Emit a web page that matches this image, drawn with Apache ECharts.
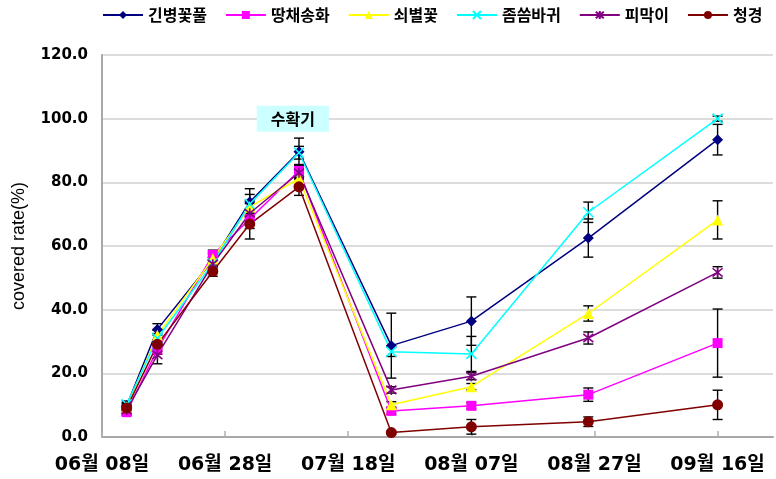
<!DOCTYPE html>
<html>
<head>
<meta charset="utf-8">
<script src="https://cdn.jsdelivr.net/npm/echarts@6/dist/echarts.min.js"></script>
<style>
  html, body { margin: 0; padding: 0; background: #fff; }
  #chart { width: 776px; height: 479px; }
</style>
</head>
<body>
<div id="chart"></div>
<script>
// 조사 날짜 (06월 08일 기준)
const startDate = '06-08'
const dates = ['06-12', '06-17', '06-26', '07-02', '07-10', '07-25', '08-07', '08-26', '09-16']
const tickLabels = ['06월 08일', '06월 28일', '07월 18일', '08월 07일', '08월 27일', '09월 16일']
const yTicks = [0, 20, 40, 60, 80, 100, 120]

const names = ['긴병꽃풀', '땅채송화', '쇠별꽃', '좀씀바귀', '피막이', '청경']

// 피복률 (%) 평균
const ginbyeong = [9.8, 33.8, 55.5, 73.8, 89.6, 28.7, 36.4, 62.5, 93.4]
const ttangchae = [7.8, 27.5, 57.2, 68.5, 83.6, 8.2, 9.8, 13.3, 29.5]
const soebyeol = [9.5, 32.0, 56.0, 72.3, 81.2, 10.1, 15.8, 38.8, 68.2]
const jomsseum = [10.3, 31.0, 54.5, 73.2, 89.3, 26.8, 26.1, 70.6, 100.0]
const pimagi = [8.5, 25.8, 54.3, 70.3, 83.0, 14.8, 19.1, 31.1, 51.7]
const cheonggyeong = [9.1, 29.1, 52.0, 66.9, 78.6, 1.4, 3.2, 4.8, 10.1]

// 표준오차 (±)
const ginbyeongErr = [1.0, 1.8, 2.0, 4.2, 4.3, 10.2, 7.6, 6.0, 4.8]
const ttangchaeErr = [1.0, 1.5, 1.5, 3.0, 2.0, 1.0, 1.0, 2.1, 10.7]
const soebyeolErr = [1.0, 1.5, 2.0, 2.0, 2.0, 1.0, 1.0, 2.4, 6.0]
const jomsseumErr = [1.0, 1.5, 2.0, 3.0, 2.0, 1.5, 5.5, 3.2, 0.8]
const pimagiErr = [1.0, 2.8, 2.0, 3.0, 2.0, 1.0, 1.1, 1.9, 1.8]
const cheonggyeongErr = [1.0, 1.5, 1.5, 4.7, 2.7, 0.5, 2.3, 1.5, 4.6]

const harvest = { label: '수확기', date: '07-09', value: 100 }

const colors = ['#000080', '#ff00ff', '#ffff00', '#00ffff', '#800080', '#800000']
const symbols = [
  'diamond',
  'rect',
  'triangle',
  'path://M0,0 L10,10 M10,0 L0,10',
  'path://M0,0 L10,10 M10,0 L0,10 M5,-1 L5,11',
  'circle'
]
const symbolSizes = [11, 10, 11, 10, 10, 11]
const values = [ginbyeong, ttangchae, soebyeol, jomsseum, pimagi, cheonggyeong]
const errors = [ginbyeongErr, ttangchaeErr, soebyeolErr, jomsseumErr, pimagiErr, cheonggyeongErr]

const dayOf = (md) => {
  const [m, d] = md.split('-').map(Number)
  return Date.UTC(2000, m - 1, d) / 86400000
}
const dayOffset = (md) => dayOf(md) - dayOf(startDate)
const xDays = dates.map(dayOffset)
const tickDays = tickLabels.map((_, i) => i * 20)

const renderError = (params, api) => {
  const x = api.value(0)
  const lo = api.coord([x, api.value(1)])
  const hi = api.coord([x, api.value(2)])
  const w = 5
  const style = { stroke: '#000', lineWidth: 1.4 }
  return {
    type: 'group',
    children: [
      { type: 'line', shape: { x1: lo[0], y1: hi[1], x2: lo[0], y2: lo[1] }, style },
      { type: 'line', shape: { x1: lo[0] - w, y1: hi[1], x2: lo[0] + w, y2: hi[1] }, style },
      { type: 'line', shape: { x1: lo[0] - w, y1: lo[1], x2: lo[0] + w, y2: lo[1] }, style }
    ]
  }
}

const series = []
names.forEach((name, i) => {
  series.push({
    name: name + '-err',
    type: 'custom',
    renderItem: renderError,
    encode: { x: 0, y: [1, 2] },
    data: values[i].map((v, j) => [xDays[j], v - errors[i][j], v + errors[i][j]]),
    z: 1,
    silent: true
  })
})
names.forEach((name, i) => {
  const isPath = symbols[i].startsWith('path://')
  series.push({
    name,
    type: 'line',
    data: values[i].map((v, j) => [xDays[j], v]),
    symbol: symbols[i],
    symbolSize: symbolSizes[i],
    showAllSymbol: true,
    color: colors[i],
    lineStyle: { color: colors[i], width: 1.5 },
    itemStyle: isPath
      ? { color: colors[i], borderColor: colors[i], borderWidth: 1.6 }
      : { color: colors[i], borderWidth: 0 },
    z: 2,
    animation: false
  })
})

series[6].markPoint = {
  symbol: 'rect',
  symbolSize: 0,
  data: [{ coord: [dayOffset(harvest.date), harvest.value] }],
  label: {
    show: true,
    position: 'inside',
    formatter: harvest.label,
    backgroundColor: '#ccffff',
    padding: [5, 14, 5, 14],
    color: '#000',
    fontSize: 16,
    fontWeight: 'bold',
    fontFamily: "'Noto Sans CJK KR', sans-serif"
  }
}

const chart = echarts.init(document.getElementById('chart'))
chart.setOption({
  animation: false,
  backgroundColor: '#fff',
  legend: {
    data: names,
    left: 102,
    top: 7,
    width: 700,
    padding: 0,
    itemWidth: 40,
    itemHeight: 10,
    itemGap: 18,
    textStyle: { color: '#000', fontSize: 16, fontWeight: 'bold', fontFamily: "'Noto Sans CJK KR', sans-serif" }
  },
  grid: { left: 102, right: 3, top: 55, bottom: 42, containLabel: false },
  xAxis: {
    type: 'value',
    min: 0,
    max: 109,
    interval: 20,
    axisLine: { show: true, lineStyle: { color: '#a8a8a8', width: 2 } },
    axisTick: { show: true, inside: true, length: 6, customValues: tickDays, lineStyle: { color: '#b0b0b0', width: 1.5 } },
    axisLabel: {
      customValues: tickDays,
      margin: 19,
      color: '#000',
      fontSize: 19,
      fontWeight: 'bold',
      fontFamily: "'DejaVu Sans', 'Noto Sans CJK KR', sans-serif",
      formatter: (v) => tickLabels[Math.round(v / 20)] || ''
    },
    splitLine: { show: false }
  },
  yAxis: {
    type: 'value',
    min: yTicks[0],
    max: yTicks[yTicks.length - 1],
    interval: 20,
    name: 'covered rate(%)',
    nameLocation: 'middle',
    nameGap: 74,
    nameTextStyle: { color: '#000', fontSize: 18, fontFamily: "'Liberation Sans', Arial, sans-serif" },
    axisLine: { show: true, lineStyle: { color: '#a8a8a8', width: 2 } },
    axisTick: { show: false },
    axisLabel: {
      margin: 14,
      color: '#000',
      fontSize: 15,
      fontWeight: 'bold',
      fontFamily: "'DejaVu Sans', sans-serif",
      formatter: (v) => v.toFixed(1)
    },
    splitLine: { show: true, lineStyle: { color: '#d0d0d0', width: 1.5 } }
  },
  series
})
</script>
</body>
</html>
